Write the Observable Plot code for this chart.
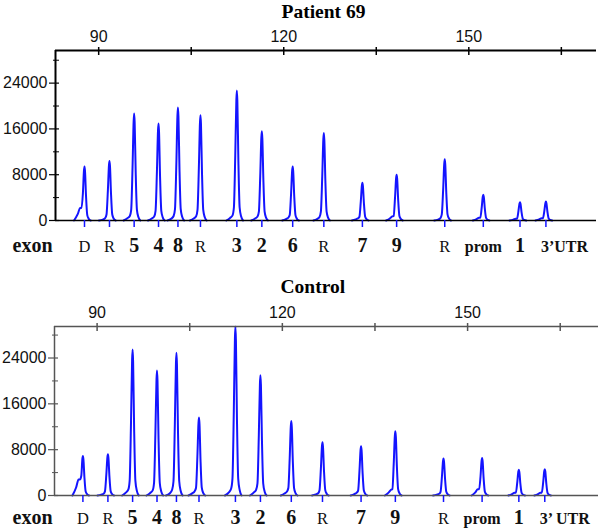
<!DOCTYPE html>
<html><head><meta charset="utf-8">
<script src="https://cdn.jsdelivr.net/npm/d3@7"></script>
<script src="https://cdn.jsdelivr.net/npm/@observablehq/plot@0.6"></script>
<style>
html,body{margin:0;padding:0;background:#fff;}
#chart svg{display:block;overflow:visible;}
</style></head><body><div id="chart"></div>
<script>
// ---- data ----
const peakSizes = [87.7, 91.75, 95.75, 99.7, 102.85, 106.5, 112.4, 116.45, 121.45, 126.5, 132.75, 138.3, 146.1, 152.35, 158.3, 162.5];
const patientLabels = ["D","R","5","4","8","R","3","2","6","R","7","9","R","prom","1","3’UTR"];
const controlLabels = ["D","R","5","4","8","R","3","2","6","R","7","9","R","prom","1","3’ UTR"];
const patientHeights = [9450, 10400, 18700, 16950, 19750, 18400, 22700, 15600, 9450, 15300, 6600, 8000, 10700, 4500, 3200, 3300];
const controlHeights = [6900, 7200, 25500, 21800, 24900, 13600, 29500, 21000, 13000, 9300, 8600, 11200, 6450, 6550, 4500, 4600];
const patientShoulders = [2200, 300, 800, 700, 600, 700, 900, 700, 500, 500, 400, 700, 300, 500, 300, 400];
const controlShoulders = [2800, 300, 1000, 900, 700, 750, 1000, 1000, 700, 400, 500, 1000, 300, 1100, 500, 500];
const xTicks = [90, 105, 120, 135, 150, 165];
const xTickLabels = [90, 120, 150];
const yMajorTicks = [0, 8000, 16000, 24000];
const yMinorTicks = [4000, 12000, 20000, 28000];

const SANS = "'Liberation Sans', Arial, sans-serif";
const SERIF = "'Liberation Serif', 'Times New Roman', serif";
const BLUE = "#1414ff";

function traceRows(heights, shoulders) {
  const rows = [];
  peakSizes.forEach((p, i) => {
    const h = heights[i], s = shoulders[i];
    const pts = [
      [-1.7, 0], [-1.1, s * 0.5], [-0.7, Math.max(s, 0.04 * h)], [-0.48, Math.max(s, 0.1 * h)],
      [-0.26, 0.5 * h], [-0.08, 0.93 * h], [0, h], [0.08, 0.92 * h],
      [0.25, 0.45 * h], [0.45, 0.1 * h], [0.7, 0.03 * h], [1.0, 0]
    ];
    for (const [dx, v] of pts) rows.push({peak: i, x: p + dx, y: v});
  });
  return rows;
}

function panel(cfg) {
  const axisColor = cfg.axisColor;
  const labels = cfg.labels.map((l, i) => ({x: peakSizes[i], label: l}));
  const isRegular = d => d.label === "D" || d.label === "R";
  const isUTR = d => d.label.startsWith("3’");
  return Plot.plot({
    width: 600,
    height: cfg.height,
    marginTop: cfg.marginTop,
    marginBottom: cfg.marginBottom,
    marginLeft: cfg.marginLeft,
    marginRight: cfg.marginRight,
    x: {domain: cfg.xDomain, axis: null},
    y: {domain: cfg.yDomain, axis: null},
    marks: [
      // trace
      Plot.line(traceRows(cfg.heights, cfg.shoulders), {x: "x", y: "y", z: "peak", stroke: BLUE, strokeWidth: 2, curve: "monotone-x"}),
      // frame lines
      Plot.ruleY([cfg.yDomain[1]], {stroke: axisColor, strokeWidth: cfg.axisWidth}),
      Plot.ruleX([cfg.xDomain[0]], {stroke: axisColor, strokeWidth: cfg.axisWidth}),
      Plot.ruleY([0], {stroke: axisColor, strokeWidth: 1.5}),
      // top axis ticks (crossing)
      Plot.axisX(xTicks, {anchor: "top", tickSize: 8, dy: 4, tickFormat: () => "", stroke: axisColor, strokeWidth: 1.5, label: null}),
      Plot.axisX(xTickLabels, {anchor: "top", tickSize: 0, tickPadding: 9, fontSize: 16, fontFamily: SANS, fill: "#111", tickFormat: d => String(d), label: null}),
      // left axis
      Plot.axisY(yMajorTicks, {anchor: "left", tickSize: 10, dx: 4, tickPadding: 2, fontSize: 16, fontFamily: SANS, fill: "#111", stroke: axisColor, strokeWidth: 1.2, tickFormat: d => String(d), label: null}),
      Plot.axisY(yMinorTicks, {anchor: "left", tickSize: 6, dx: 4, stroke: axisColor, strokeWidth: 1, tickFormat: () => "", label: null}),
      // blue ticks at peak positions
      Plot.axisX(peakSizes, {anchor: "bottom", tickSize: 7, stroke: BLUE, strokeWidth: 1.5, tickFormat: () => "", label: null}),
      // exon labels
      Plot.text(labels.filter(isRegular), {x: "x", text: "label", frameAnchor: "bottom", dy: cfg.labelDy, lineAnchor: "bottom", fontFamily: SERIF, fontSize: 16.5, fill: "#111"}),
      Plot.text(labels.filter(d => !isRegular(d) && !isUTR(d)), {x: "x", text: "label", frameAnchor: "bottom", dy: cfg.labelDy, lineAnchor: "bottom", fontFamily: SERIF, fontWeight: "bold", fontSize: d => d.label === "prom" ? 16 : 20, fill: "#111"}),
      Plot.text(labels.filter(isUTR), {x: "x", text: "label", frameAnchor: "bottom", dy: cfg.labelDy, dx: -5, textAnchor: "start", lineAnchor: "bottom", fontFamily: SERIF, fontWeight: "bold", fontSize: 16, fill: "#111"}),
      Plot.text(["exon"], {frameAnchor: "bottom-left", dx: 12 - cfg.marginLeft, dy: cfg.labelDy, textAnchor: "start", lineAnchor: "bottom", fontFamily: SERIF, fontWeight: "bold", fontSize: 20, fill: "#111"}),
      // title
      Plot.text([cfg.title], {frameAnchor: "top-left", dx: 226, dy: cfg.titleDy, textAnchor: "start", lineAnchor: "bottom", fontFamily: SERIF, fontWeight: "bold", fontSize: 19.5, fill: "#000"})
    ]
  });
}

const chart = document.getElementById("chart");
chart.append(panel({
  title: "Patient 69", labels: patientLabels, heights: patientHeights, shoulders: patientShoulders,
  height: 264, marginTop: 50, marginBottom: 44, marginLeft: 55, marginRight: 4,
  xDomain: [83, 170.7], yDomain: [0, 29700], axisColor: "#000", axisWidth: 2,
  labelDy: 31, titleDy: -33
}));
chart.append(panel({
  title: "Control", labels: controlLabels, heights: controlHeights, shoulders: controlShoulders,
  height: 265, marginTop: 62, marginBottom: 34, marginLeft: 54, marginRight: 2,
  xDomain: [83.1, 171.2], yDomain: [0, 29500], axisColor: "#555", axisWidth: 1.5,
  labelDy: 28, titleDy: -34
}));
</script></body></html>
